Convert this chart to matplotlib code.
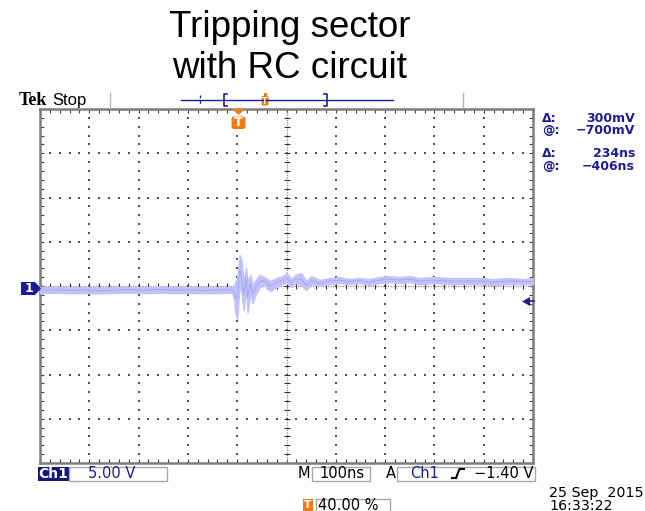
"""
Scope capture of the tripping sector with the RC circuit: Ch1 at 5 V/div,
100 ns/div, trigger at 40 % of the record, drawn on a Tek-style graticule.
"""

import matplotlib.pyplot as plt
import numpy as np
from matplotlib.patches import FancyBboxPatch, Polygon, Rectangle

# Ch1 trace: time from trigger (ns), upper/lower edge of the trace band (V from ground)
t_ns = [-400, -370, -340, -310, -280, -250, -220, -190, -160, -130, -100, -70, -40, -10,
        -6, -4, 0, 5, 8, 13, 18, 21, 27, 31,
        39, 45, 55, 66, 80, 92, 100, 110, 118, 130,
        140, 151, 167, 187, 207, 228, 248, 268, 288, 308,
        329, 349, 369, 400, 430, 460, 491, 521, 551, 582, 600]
v_hi = [0.22, 0.25, 0.20, 0.24, 0.18, 0.22, 0.26, 0.20, 0.30, 0.22, 0.24, 0.20, 0.22, 0.25,
        0.45, 0.79, 1.24, 3.82, 3.48, 1.01, 2.36, 0.79, 1.57, 0.45,
        1.12, 1.57, 1.35, 0.90, 1.24, 1.46, 1.80, 1.12, 1.57, 1.80,
        0.90, 1.46, 1.01, 1.24, 1.35, 1.12, 1.24, 1.12, 1.35, 1.46,
        1.35, 1.46, 1.24, 1.35, 1.24, 1.24, 1.24, 1.12, 1.24, 1.12, 1.24]
v_lo = [-0.45, -0.42, -0.48, -0.44, -0.50, -0.45, -0.40, -0.47, -0.42, -0.46, -0.44, -0.48, -0.45, -0.42,
        -1.24, -2.59, -3.37, 0.45, -0.11, -2.36, 0.11, -2.70, -0.34, -1.57,
        -0.45, 0.11, 0.56, -0.22, 0.22, 0.56, 0.67, 0.22, 0.67, 0.45,
        -0.11, 0.56, 0.34, 0.56, 0.67, 0.56, 0.67, 0.45, 0.67, 0.79,
        0.67, 0.79, 0.56, 0.67, 0.56, 0.56, 0.56, 0.45, 0.56, 0.56, 0.56]

# scope settings
volts_per_div = 5.0
ns_per_div = 100.0
trig_pos = 0.40
gnd_offset = -0.34
trig_level = -1.40

cursor_labels = ["Δ:", "@:", "Δ:", "@:"]
cursor_values = ["300mV", "−700mV", "234ns", "−406ns"]

NAVY = "#1c1c96"
ORANGE = "#f27a12"
TRACE = "#c2c2fb"
STATUS_FONT = dict(fontsize=10.5, family="DejaVu Sans", va="baseline")

W, H = 645, 511


def draw_graticule(ax):
    x0 = -trig_pos * 10 * ns_per_div
    x1 = x0 + 10 * ns_per_div
    y0, y1 = -4 * volts_per_div, 4 * volts_per_div
    ax.set_xlim(x0, x1)
    ax.set_ylim(y0, y1)

    minor_x = np.arange(x0, x1 + 1, ns_per_div / 5)
    minor_y = np.arange(y0, y1 + 0.01, volts_per_div / 5)
    major_x = np.arange(x0 + ns_per_div, x1, ns_per_div)
    major_y = np.arange(y0 + volts_per_div, y1, volts_per_div)
    cx, cy = x0 + 5 * ns_per_div, 0.0

    # dotted division lines
    for x in major_x:
        if abs(x - cx) > 1:
            ax.scatter(np.full(len(minor_y), x), minor_y, s=1.2, marker="s",
                       color="#505050", linewidths=0, zorder=2)
    for y in major_y:
        if abs(y - cy) > 0.01:
            ax.scatter(minor_x, np.full(len(minor_x), y), s=1.2, marker="s",
                       color="#505050", linewidths=0, zorder=2)

    # centre cross with minor tick marks
    ax.axhline(cy, color="#8a8a8a", lw=0.9, ls=(0, (1, 1)), zorder=2)
    ax.axvline(cx, color="#8a8a8a", lw=0.9, ls=(0, (1, 1)), zorder=2)
    ax.plot(minor_x, np.full(len(minor_x), cy), ls="none", marker="|",
            ms=4.5, mew=0.8, color="#303030", zorder=2)
    ax.plot(np.full(len(minor_y), cx), minor_y, ls="none", marker="_",
            ms=4.5, mew=0.8, color="#303030", zorder=2)

    # frame ticks
    ax.set_xticks(minor_x)
    ax.set_yticks(minor_y)
    ax.tick_params(direction="in", top=True, right=True, length=3, width=0.8,
                   color="#404040", labelbottom=False, labelleft=False)
    for sp in ax.spines.values():
        sp.set_color("#7d7d7d")
        sp.set_linewidth(1.8)


def draw_trace(ax):
    hi = np.array(v_hi) + gnd_offset
    lo = np.array(v_lo) + gnd_offset
    ax.fill_between(t_ns, lo, hi, color=TRACE, lw=1.0, edgecolor=TRACE, zorder=3)
    ax.plot(t_ns, (hi + lo) / 2, color="#a6a6f2", lw=0.7, zorder=3)


def draw_header(ov):
    ov.text(290, 37, "Tripping sector", ha="center", va="baseline",
            fontsize=26.5, family="Liberation Sans")
    ov.text(290, 78, "with RC circuit", ha="center", va="baseline",
            fontsize=26.5, family="Liberation Sans")

    ov.text(19, 105, "Tek", va="baseline", fontsize=13, weight="bold",
            family="Liberation Serif")
    ov.text(52, 105, "Stop", va="baseline", fontsize=12, family="Liberation Sans")
    ov.plot([110, 110], [93, 108], color="#b4b4b4", lw=1)
    ov.plot([463, 463], [93, 108], color="#b4b4b4", lw=1)

    # record position bar
    ov.plot([181, 393], [100, 100], color=NAVY, lw=1)
    ov.plot([200, 200], [95, 105], color=NAVY, lw=1, ls=(0, (2, 2)))
    ov.plot([227, 224, 224, 227], [94, 94, 106, 106], color=NAVY, lw=1.2)
    ov.plot([324, 327, 327, 324], [94, 94, 106, 106], color=NAVY, lw=1.2)
    ov.add_patch(FancyBboxPatch((261.5, 96), 7, 9.5, boxstyle="round,pad=0,rounding_size=1.5",
                                fc=ORANGE, ec="none"))
    ov.add_patch(Rectangle((263.5, 93), 3, 3, fc=ORANGE, ec="none"))
    ov.text(265, 101.5, "T", ha="center", va="center", fontsize=5.5, color="white",
            weight="bold")

    # trigger position marker on the graticule
    ov.add_patch(Polygon([[232, 109], [245, 109], [238.5, 115]], closed=True,
                         fc=ORANGE, ec="none"))
    ov.add_patch(FancyBboxPatch((231.5, 116.5), 14, 12.5,
                                boxstyle="round,pad=0,rounding_size=2.5",
                                fc=ORANGE, ec="none"))
    ov.text(238.5, 123, "T", ha="center", va="center", fontsize=9, color="white",
            weight="bold")

    # cursor readouts
    for lab, val, yb in zip(cursor_labels, cursor_values, [122, 134, 157, 170]):
        ov.text(542, yb, lab, va="baseline", fontsize=9, weight="bold",
                family="DejaVu Sans", color=NAVY)
        ov.text(635, yb, val, va="baseline", ha="right", fontsize=9, weight="bold",
                family="DejaVu Sans", color=NAVY)


def draw_markers(ov):
    # channel 1 ground reference
    ov.add_patch(Polygon([[21, 282], [35, 282], [41, 288.5], [35, 295], [21, 295]],
                         closed=True, fc=NAVY, ec="none"))
    ov.text(29, 289, "1", ha="center", va="center", fontsize=9, color="white",
            weight="bold")
    # trigger level arrow
    ov.add_patch(Polygon([[522, 301.5], [530, 297], [530, 306]], closed=True,
                         fc=NAVY, ec="none"))
    ov.plot([530, 534], [301.5, 301.5], color=NAVY, lw=1.2)


def draw_status(ov):
    box = dict(fc="white", ec="#a8a8a8", lw=1)
    ov.add_patch(Rectangle((38, 467), 31, 14, fc="#14147a", ec="none"))
    ov.text(53.5, 478, "Ch1", ha="center", color="white", weight="bold",
            family="DejaVu Sans", va="baseline", fontsize=10)
    ov.add_patch(Rectangle((69, 467), 98, 14, **box))
    ov.text(88, 478, "5.00 V", color=NAVY, **STATUS_FONT)

    ov.text(298, 478, "M", **STATUS_FONT)
    ov.add_patch(Rectangle((312, 467), 58, 14, **box))
    ov.text(319, 478, "100ns", **STATUS_FONT)

    ov.text(386, 478, "A", **STATUS_FONT)
    ov.add_patch(Rectangle((397, 467), 138, 14, **box))
    ov.text(410, 478, "Ch1", color=NAVY, **STATUS_FONT)
    # rising-edge slope symbol
    ov.plot([452, 456, 459.5, 464], [478, 478, 469, 469], color="black", lw=1.5,
            solid_joinstyle="miter")
    ov.text(533, 478, "−1.40 V", ha="right", **STATUS_FONT)

    ov.text(549, 497, "25 Sep  2015", fontsize=10.3, family="DejaVu Sans", va="baseline")
    ov.text(549, 509.5, "16:33:22", fontsize=10.3, family="DejaVu Sans", va="baseline")

    # trigger position readout
    ov.add_patch(Rectangle((303, 499), 10, 12, fc=ORANGE, ec="none"))
    ov.text(308, 505.5, "T", ha="center", va="center", fontsize=7.5, color="white",
            weight="bold")
    ov.add_patch(Rectangle((316, 499), 74, 14, **box))
    ov.text(318, 509.5, "40.00 %", **STATUS_FONT)


fig = plt.figure(figsize=(W / 100, H / 100), dpi=100)
fig.patch.set_facecolor("white")

ax = fig.add_axes([40 / W, 1 - 463 / H, 493 / W, 354 / H], zorder=2)
draw_graticule(ax)
draw_trace(ax)

ov = fig.add_axes([0, 0, 1, 1], zorder=3)
ov.set_xlim(0, W)
ov.set_ylim(H, 0)
ov.axis("off")
ov.patch.set_alpha(0)
draw_header(ov)
draw_markers(ov)
draw_status(ov)

fig.savefig("out.png", dpi=100)
